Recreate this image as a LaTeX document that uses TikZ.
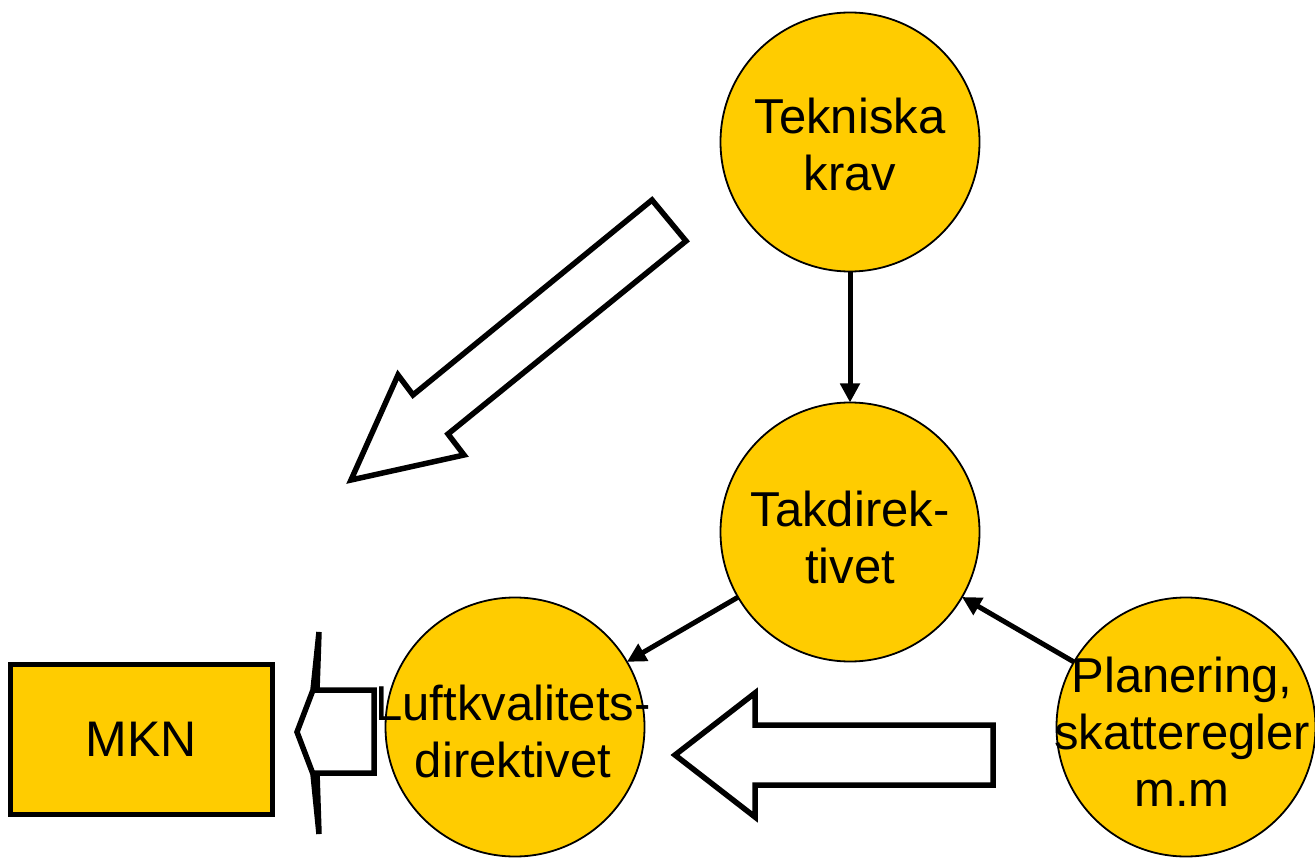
\documentclass[tikz,border=0pt]{standalone}
\usepackage{fontspec}
\setmainfont{Liberation Sans}
\usetikzlibrary{arrows.meta}
\definecolor{gold}{RGB}{255,204,0}
\tikzset{
  bubble/.style={circle, draw=black, line width=1.8pt, fill=gold, minimum size=259pt, inner sep=0pt, outer sep=0pt},
  bubbletext/.style={align=center, inner sep=0pt, font=\fontsize{49}{57}\selectfont},
  link/.style={line width=5pt, -{Triangle[length=19pt,width=19pt]}},
  blockarrow/.style={draw=black, line width=5.5pt, fill=white, line join=miter, miter limit=20},
  mknbox/.style={draw=black, line width=5.5pt, fill=gold, minimum width=262pt, minimum height=150pt, inner sep=0pt, font=\fontsize{50}{57}\selectfont}
}
\begin{document}
\begin{tikzpicture}[x=1pt,y=-1pt]
\useasboundingbox (0,0) rectangle (1315,858);
% circles
\node[bubble] (tek) at (850,142) {};
\node[bubble] (tak) at (850,532) {};
\node[bubble] (luft) at (515,727) {};
\node[bubble] (plan) at (1186,727) {};
% texts
\node[bubbletext] (tekt) at (850,144) {Tekniska\\krav};
\node[bubbletext] (takt) at (850,537) {Takdirek-\\tivet};
\node[bubbletext] (luftt) at (513,731) {Luftkvalitets-\\direktivet};
\node[bubbletext] (plant) at (1182,732) {Planering,\\skatteregler\\m.m};
% MKN box
\node[mknbox] (mkn) at (141.5,739.5) {MKN};
% connectors
\draw[link] (tek) -- (tak);
\draw[link] (tak) -- (luft);
\draw[link] (plan) -- (tak);
% block arrows
\draw[blockarrow] (652,200) -- (686,241) -- (448,434) -- (464,455) -- (351,480) -- (398,375) -- (413,395) -- cycle;
\draw[blockarrow] (993,725) -- (755,725) -- (755,693) -- (675,755) -- (755,817) -- (755,785) -- (993,785) -- cycle;
\draw[blockarrow] (374,690) -- (317,690) -- (319,632) -- (313,690) -- (297,732) -- (313,774) -- (319,834) -- (317,773) -- (374,773) -- cycle;
\end{tikzpicture}
\end{document}
